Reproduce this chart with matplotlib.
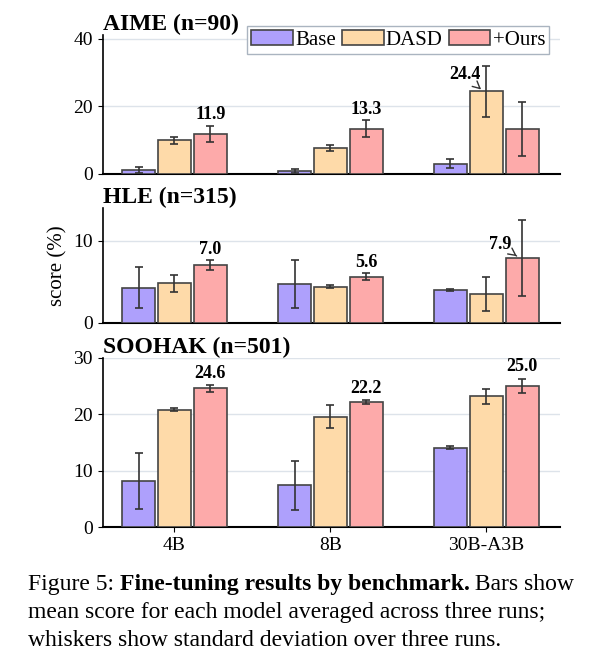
import matplotlib
matplotlib.use('Agg')
import matplotlib.pyplot as plt
import numpy as np

plt.rcParams['font.family'] = ['Liberation Serif', 'DejaVu Serif']

models = ['4B', '8B', '30B-A3B']
series = ['Base', 'DASD', '+Ours']
colors = ['#aea0fc', '#fedaa9', '#fdaaaa']

titles = ['AIME (n=90)', 'HLE (n=315)', 'SOOHAK (n=501)']
base_mean = [[1.2, 1.0, 3.0], [4.25, 4.7, 4.0], [8.2, 7.4, 14.1]]
base_std = [[1.0, 0.6, 1.3], [2.5, 2.9, 0.15], [5.0, 4.3, 0.3]]
dasd_mean = [[9.9, 7.7, 24.4], [4.8, 4.4, 3.5], [20.8, 19.6, 23.2]]
dasd_std = [[1.0, 1.0, 7.6], [1.0, 0.2, 2.1], [0.25, 2.0, 1.3]]
ours_mean = [[11.9, 13.3, 13.3], [7.0, 5.6, 7.9], [24.6, 22.2, 25.0]]
ours_std = [[2.4, 2.5, 8.0], [0.6, 0.4, 4.6], [0.6, 0.3, 1.3]]
# which bar in each group gets the best-value label (series index)
best = [[2, 2, 1], [2, 2, 2], [2, 2, 2]]
ylims = [(0, 41), (0, 14), (0, 30)]
yticks = [[0, 20, 40], [0, 10], [0, 10, 20, 30]]

fig = plt.figure(figsize=(6.15, 6.64), dpi=100)
boxes = [(0.947, 0.738), (0.687, 0.514), (0.461, 0.206)]
x = np.arange(len(models))
w = 0.21
off = 0.23

for k in range(3):
    top, bot = boxes[k]
    ax = fig.add_axes([0.167, bot, 0.743, top - bot])
    means = [base_mean[k], dasd_mean[k], ours_mean[k]]
    stds = [base_std[k], dasd_std[k], ours_std[k]]
    for s in range(3):
        ax.bar(x + (s - 1) * off, means[s], w, yerr=stds[s], color=colors[s],
               edgecolor='#444444', linewidth=1.2, label=series[s], capsize=3,
               error_kw=dict(elinewidth=1.2, ecolor='#333333', capthick=1.2), zorder=3)
    for g in range(3):
        s = best[k][g]
        xb = x[g] + (s - 1) * off
        v = means[s][g]
        txt = '%.1f' % v
        if stds[s][g] > 3:
            span = ylims[k][1]
            ax.annotate(txt, xy=(xb - 0.02, v), xytext=(xb - 0.14, v + span * 0.12),
                        ha='center', va='center', fontsize=13, fontweight='bold',
                        arrowprops=dict(arrowstyle='->', color='#333333', lw=1))
        else:
            ax.text(xb, v + stds[s][g] + ylims[k][1] * 0.02, txt, ha='center',
                    va='bottom', fontsize=13, fontweight='bold')
    ax.set_ylim(*ylims[k])
    ax.set_yticks(yticks[k])
    ax.set_xlim(-0.46, 2.47)
    ax.grid(axis='y', color='#dde3ea', linewidth=1, zorder=0)
    for sp in ['top', 'right']:
        ax.spines[sp].set_visible(False)
    ax.spines['left'].set_linewidth(1.2)
    ax.spines['bottom'].set_linewidth(1.5)
    ax.tick_params(labelsize=14)
    ax.text(0.0, 1.0, titles[k], transform=ax.transAxes, fontsize=17,
            fontweight='bold', va='bottom', ha='left')
    if k < 2:
        ax.set_xticks([])
    else:
        ax.set_xticks(x)
        ax.set_xticklabels(models)
    if k == 0:
        ax.legend(loc='upper right', bbox_to_anchor=(1.0, 1.14), ncol=3, fontsize=15,
                  handlelength=2.0, handletextpad=0.1, columnspacing=0.3,
                  borderpad=0.2, fancybox=False, edgecolor='#aab4c0', framealpha=1)
    if k == 1:
        ax.set_ylabel('score (%)', fontsize=15)

# caption, first line built piece by piece
fs = 17
renderer = fig.canvas.get_renderer()
xpos = 0.045
for part, wt in [('Figure 5: ', 'normal'), ('Fine-tuning results by benchmark.', 'bold'),
                 (' Bars show', 'normal')]:
    t = fig.text(xpos, 0.12, part, fontsize=fs, fontweight=wt, ha='left', va='center')
    bb = t.get_window_extent(renderer)
    xpos += bb.width / fig.bbox.width
fig.text(0.045, 0.078, 'mean score for each model averaged across three runs;',
         fontsize=fs, ha='left', va='center')
fig.text(0.045, 0.036, 'whiskers show standard deviation over three runs.',
         fontsize=fs, ha='left', va='center')

fig.savefig('out.png', dpi=100)
